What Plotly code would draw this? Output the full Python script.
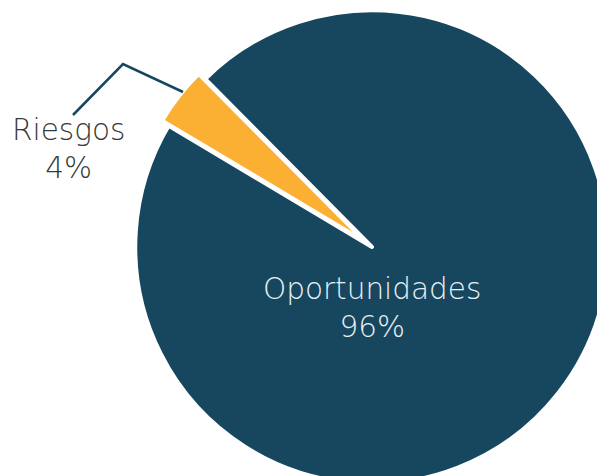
import plotly.graph_objects as go

# Data
labels = ["Riesgos", "Oportunidades"]
values = [4, 96]
colors = ["#FBB034", "#17475F"]

W, H = 620, 495

fig = go.Figure(
    go.Pie(
        labels=labels,
        values=values,
        sort=False,
        direction="counterclockwise",
        rotation=-59.2,
        pull=[0.035, 0],
        marker=dict(colors=colors, line=dict(color="white", width=4)),
        textinfo="none",
        hoverinfo="label+percent",
        showlegend=False,
        domain=dict(x=[127 / W, 617 / W], y=[1 - 492 / H, 1 - 2 / H]),
    )
)

def px(x, y):
    return x / W, 1 - y / H

ox, oy = px(372, 308)
rx, ry = px(68, 149)
fig.add_annotation(
    x=ox, y=oy, xref="paper", yref="paper", xanchor="center", yanchor="middle",
    text=f"{labels[1]}<br>{values[1]}%", showarrow=False,
    font=dict(family="DejaVu Sans", size=29.5, color="#EAF0F3", weight=200),
)
fig.add_annotation(
    x=rx, y=ry, xref="paper", yref="paper", xanchor="center", yanchor="middle",
    text=f"{labels[0]}<br>{values[0]}%", showarrow=False,
    font=dict(family="DejaVu Sans", size=29.5, color="#383838", weight=200),
)

# leader line
p1, p2, p3 = px(73, 115), px(123, 64), px(183, 92)
fig.add_shape(
    type="path", xref="paper", yref="paper",
    path=f"M {p1[0]},{p1[1]} L {p2[0]},{p2[1]} L {p3[0]},{p3[1]}",
    line=dict(color="#17475F", width=2.5),
)

fig.update_layout(
    width=W, height=H,
    margin=dict(l=0, r=0, t=0, b=0),
    paper_bgcolor="white",
    plot_bgcolor="white",
)

fig.write_html(
    "out.html",
    config={"displayModeBar": False},
    post_script="document.body.style.margin='0';document.body.style.overflow='hidden';document.documentElement.style.overflow='hidden';",
)
